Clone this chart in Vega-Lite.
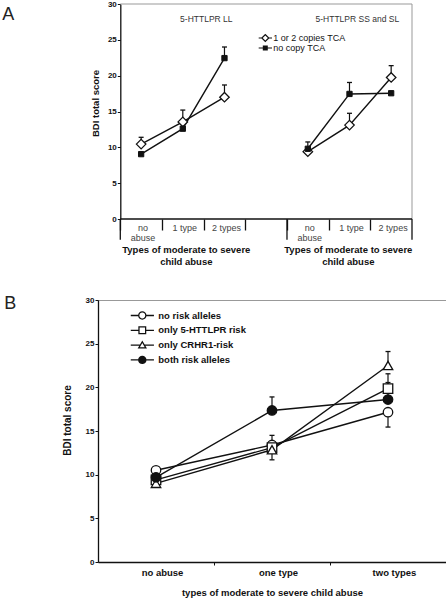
{
  "$schema": "https://vega.github.io/schema/vega-lite/v6.json",
  "padding": {"left": 2, "top": 0, "right": 0, "bottom": 0},
  "config": {
    "font": "Liberation Sans",
    "view": {"stroke": "#999", "strokeWidth": 1},
    "axis": {"grid": false, "domainColor": "#111", "domainWidth": 1.3, "tickColor": "#111", "labelColor": "#111", "titleColor": "#111", "labelFlush": false, "labelOverlap": false},
    "legend": {"padding": 0, "offset": 0}
  },
  "datasets": {
    "a": [
      {"geno": "LL", "abuse": "no abuse", "slot": 0, "series": "1 or 2 copies TCA", "bdi": 10.45, "lo": 10.45, "hi": 11.4},
      {"geno": "LL", "abuse": "1 type", "slot": 1, "series": "1 or 2 copies TCA", "bdi": 13.55, "lo": 13.55, "hi": 15.2},
      {"geno": "LL", "abuse": "2 types", "slot": 2, "series": "1 or 2 copies TCA", "bdi": 17.0, "lo": 17.0, "hi": 18.7},
      {"geno": "LL", "abuse": "no abuse", "slot": 0, "series": "no copy TCA", "bdi": 9.05, "lo": 9.05, "hi": 9.05},
      {"geno": "LL", "abuse": "1 type", "slot": 1, "series": "no copy TCA", "bdi": 12.6, "lo": 12.6, "hi": 12.6},
      {"geno": "LL", "abuse": "2 types", "slot": 2, "series": "no copy TCA", "bdi": 22.45, "lo": 22.45, "hi": 24.0},
      {"geno": "SS and SL", "abuse": "no abuse", "slot": 4, "series": "1 or 2 copies TCA", "bdi": 9.4, "lo": 9.4, "hi": 9.4},
      {"geno": "SS and SL", "abuse": "1 type", "slot": 5, "series": "1 or 2 copies TCA", "bdi": 13.1, "lo": 13.1, "hi": 14.75},
      {"geno": "SS and SL", "abuse": "2 types", "slot": 6, "series": "1 or 2 copies TCA", "bdi": 19.75, "lo": 19.75, "hi": 21.4},
      {"geno": "SS and SL", "abuse": "no abuse", "slot": 4, "series": "no copy TCA", "bdi": 9.8, "lo": 9.8, "hi": 10.75},
      {"geno": "SS and SL", "abuse": "1 type", "slot": 5, "series": "no copy TCA", "bdi": 17.45, "lo": 17.45, "hi": 19.05},
      {"geno": "SS and SL", "abuse": "2 types", "slot": 6, "series": "no copy TCA", "bdi": 17.55, "lo": 17.55, "hi": 17.55}
    ],
    "b": [
      {"series": "no risk alleles", "types": 0, "bdi": 10.5, "lo": 10.5, "hi": 10.5},
      {"series": "no risk alleles", "types": 1, "bdi": 13.4, "lo": 13.4, "hi": 14.5},
      {"series": "no risk alleles", "types": 2, "bdi": 17.15, "lo": 15.45, "hi": 17.15},
      {"series": "only 5-HTTLPR risk", "types": 0, "bdi": 9.4, "lo": 9.4, "hi": 9.4},
      {"series": "only 5-HTTLPR risk", "types": 1, "bdi": 13.1, "lo": 13.1, "hi": 13.1},
      {"series": "only 5-HTTLPR risk", "types": 2, "bdi": 19.85, "lo": 19.85, "hi": 21.55},
      {"series": "only CRHR1-risk", "types": 0, "bdi": 9.0, "lo": 9.0, "hi": 9.0},
      {"series": "only CRHR1-risk", "types": 1, "bdi": 12.85, "lo": 11.7, "hi": 12.85},
      {"series": "only CRHR1-risk", "types": 2, "bdi": 22.5, "lo": 22.5, "hi": 24.1},
      {"series": "both risk alleles", "types": 0, "bdi": 9.7, "lo": 9.7, "hi": 9.7},
      {"series": "both risk alleles", "types": 1, "bdi": 17.35, "lo": 17.35, "hi": 18.9},
      {"series": "both risk alleles", "types": 2, "bdi": 18.6, "lo": 18.6, "hi": 20.55}
    ]
  },
  "spacing": 81,
  "bounds": "flush",
  "vconcat": [
    {
      "width": 314,
      "height": 215,
      "view": {"stroke": null},
      "data": {"name": "a"},
      "encoding": {
        "x": {"field": "slot", "type": "quantitative", "scale": {"domain": [-1.035, 6.5], "nice": false, "zero": false},
          "axis": {"values": [0, 1, 2, 3, 4, 5, 6], "labelExpr": "datum.value == 0 || datum.value == 4 ? ['no', 'abuse'] : (datum.value == 1 || datum.value == 5 ? '1 type' : (datum.value == 3 ? '' : '2 types'))", "ticks": true, "tickSize": 11, "tickWidth": 1.3, "tickOffset": -20.83, "domain": false, "labelFontSize": 9, "labelColor": "#444", "labelPadding": -7, "labelLineHeight": 10, "labelOffset": 22.3, "title": null}},
        "y": {"field": "bdi", "type": "quantitative", "scale": {"domain": [0, 30], "nice": false, "zero": false},
          "axis": {"values": [0, 5, 10, 15, 20, 25, 30], "offset": -22.3, "tickSize": 3, "labelPadding": 1, "labelFontSize": 8, "labelFontWeight": "bold", "title": "BDI total score", "titleFontSize": 9.5, "titleFontWeight": "bold", "titlePadding": 7, "titleY": 99}}
      },
      "layer": [
        {
          "transform": [{"filter": "datum.slot == 0 && datum.series == 'no copy TCA'"}],
          "mark": {"type": "rule", "color": "#999", "strokeWidth": 1},
          "encoding": {"x": {"datum": -0.5}, "x2": {"datum": 6.5}, "y": {"datum": 30}}
        },
        {
          "transform": [{"filter": "datum.slot == 0 && datum.series == 'no copy TCA'"}],
          "mark": {"type": "rule", "color": "#999", "strokeWidth": 1},
          "encoding": {"x": {"datum": 6.5}, "y": {"datum": 0}, "y2": {"datum": 30}}
        },
        {
          "transform": [{"filter": "datum.slot == 0 && datum.series == 'no copy TCA'"}],
          "mark": {"type": "rule", "color": "#111", "strokeWidth": 1.3},
          "encoding": {"x": {"datum": -0.5}, "x2": {"datum": 6.5}, "y": {"datum": 0}}
        },
        {
          "transform": [{"filter": "datum.slot == 0 && datum.series == 'no copy TCA'"}],
          "mark": {"type": "rule", "color": "#111", "strokeWidth": 1.3},
          "encoding": {"x": {"datum": -0.5}, "y": {"datum": 0}, "y2": {"datum": -2.9}}
        },
        {
          "transform": [{"filter": "datum.slot == 0 && datum.series == 'no copy TCA'"}],
          "mark": {"type": "rule", "color": "#111", "strokeWidth": 1.3},
          "encoding": {"x": {"datum": 3.5}, "y": {"datum": 0}, "y2": {"datum": -2.9}}
        },
        {
          "transform": [{"filter": "datum.slot == 0 && datum.series == 'no copy TCA'"}],
          "mark": {"type": "rule", "color": "#111", "strokeWidth": 1.3},
          "encoding": {"x": {"datum": 6.5}, "y": {"datum": 0}, "y2": {"datum": -2.9}}
        },
        {
          "mark": {"type": "line", "color": "#111", "strokeWidth": 1.4},
          "encoding": {"detail": [{"field": "geno"}, {"field": "series"}]}
        },
        {
          "transform": [{"filter": "datum.hi > datum.lo"}],
          "mark": {"type": "rule", "color": "#111", "strokeWidth": 1.2},
          "encoding": {"y": {"field": "lo", "type": "quantitative"}, "y2": {"field": "hi"}}
        },
        {
          "transform": [{"filter": "datum.hi > datum.bdi"}],
          "mark": {"type": "point", "shape": "M-1,0H1", "size": 25, "stroke": "#111", "strokeWidth": 1.3, "opacity": 1},
          "encoding": {"y": {"field": "hi", "type": "quantitative"}}
        },
        {
          "transform": [{"filter": "datum.series == '1 or 2 copies TCA'"}],
          "mark": {"type": "point", "shape": "diamond", "size": 90, "fill": "white", "stroke": "#111", "strokeWidth": 1.3, "opacity": 1}
        },
        {
          "transform": [{"filter": "datum.series == 'no copy TCA'"}],
          "mark": {"type": "point", "shape": "square", "size": 28, "fill": "#111", "stroke": "#111", "strokeWidth": 1, "opacity": 1}
        },
        {
          "transform": [{"filter": "datum.slot == 0"}],
          "mark": {"type": "point", "opacity": 0, "size": 0, "filled": true, "color": "#111"},
          "encoding": {
            "shape": {"field": "series", "type": "nominal",
              "scale": {"domain": ["1 or 2 copies TCA", "no copy TCA"], "range": ["M-1,-0.09H-0.55V0.09H-1ZM0.55,-0.09H1V0.09H0.55ZM0,-0.64L0.64,0L0,0.64L-0.64,0ZM0,-0.38L-0.38,0L0,0.38L0.38,0Z", "M-1,-0.09H1V0.09H-1ZM-0.37,-0.37H0.37V0.37H-0.37Z"]},
              "legend": {"title": null, "orient": "none", "legendX": 160.3, "legendY": 29.5, "symbolSize": 182, "symbolFillColor": "#111", "symbolStrokeWidth": 0, "symbolOpacity": 1, "labelFontSize": 9, "labelColor": "#111", "labelOffset": 1, "clipHeight": 9, "rowPadding": -2.8, "padding": 0}}
          }
        },
        {
          "transform": [{"filter": "datum.slot == 0 && datum.series == 'no copy TCA'"}],
          "mark": {"type": "text", "text": "5-HTTLPR LL", "fontSize": 8.5, "color": "#333", "align": "center", "baseline": "middle"},
          "encoding": {"x": {"datum": 1.564}, "y": {"datum": 27.97}}
        },
        {
          "transform": [{"filter": "datum.slot == 0 && datum.series == 'no copy TCA'"}],
          "mark": {"type": "text", "text": "5-HTTLPR SS and SL", "fontSize": 8.5, "color": "#333", "align": "center", "baseline": "middle"},
          "encoding": {"x": {"datum": 5.188}, "y": {"datum": 27.97}}
        },
        {
          "transform": [{"filter": "datum.slot == 0 && datum.series == 'no copy TCA'"}],
          "mark": {"type": "text", "text": ["Types of moderate to severe", "child abuse"], "fontSize": 9.5, "fontWeight": "bold", "color": "#111", "align": "center", "baseline": "top", "lineHeight": 12.3},
          "encoding": {"x": {"datum": 1.084}, "y": {"datum": -3.6}}
        },
        {
          "transform": [{"filter": "datum.slot == 0 && datum.series == 'no copy TCA'"}],
          "mark": {"type": "text", "text": ["Types of moderate to severe", "child abuse"], "fontSize": 9.5, "fontWeight": "bold", "color": "#111", "align": "center", "baseline": "top", "lineHeight": 12.3},
          "encoding": {"x": {"datum": 4.972}, "y": {"datum": -3.6}}
        },
        {
          "transform": [{"filter": "datum.slot == 0 && datum.series == 'no copy TCA'"}],
          "mark": {"type": "text", "text": "A", "fontSize": 18, "color": "#222", "align": "left", "baseline": "alphabetic"},
          "encoding": {"x": {"datum": -3.332}, "y": {"datum": 27.79}}
        }
      ]
    },
    {
      "width": 348,
      "height": 262,
      "data": {"name": "b"},
      "encoding": {
        "x": {"field": "types", "type": "quantitative", "scale": {"domain": [-0.5, 2.5], "nice": false, "zero": false},
          "axis": {"values": [0, 1, 2], "labelExpr": "datum.value == 0 ? 'no abuse' : (datum.value == 1 ? 'one type' : 'two types')", "tickOffset": 58, "labelOffset": -52, "tickSize": 3, "labelPadding": 2, "labelFontSize": 9.5, "labelFontWeight": "bold", "title": "types of moderate to severe child abuse", "titleFontSize": 9.5, "titleFontWeight": "bold", "titlePadding": 11}},
        "y": {"field": "bdi", "type": "quantitative", "scale": {"domain": [0, 30], "nice": false, "zero": false},
          "axis": {"values": [0, 5, 10, 15, 20, 25, 30], "tickSize": 3, "labelPadding": 1, "labelFontSize": 8, "labelFontWeight": "bold", "title": "BDI total score", "titleFontSize": 10, "titleFontWeight": "bold", "titlePadding": 13, "titleY": 120}}
      },
      "layer": [
        {
          "mark": {"type": "line", "color": "#111", "strokeWidth": 1.4},
          "encoding": {"detail": {"field": "series"}}
        },
        {
          "transform": [{"filter": "datum.hi > datum.lo"}],
          "mark": {"type": "rule", "color": "#111", "strokeWidth": 1.2},
          "encoding": {"y": {"field": "lo", "type": "quantitative"}, "y2": {"field": "hi"}}
        },
        {
          "transform": [{"filter": "datum.hi > datum.bdi"}],
          "mark": {"type": "point", "shape": "M-1,0H1", "size": 25, "stroke": "#111", "strokeWidth": 1.3, "opacity": 1},
          "encoding": {"y": {"field": "hi", "type": "quantitative"}}
        },
        {
          "transform": [{"filter": "datum.lo < datum.bdi"}],
          "mark": {"type": "point", "shape": "M-1,0H1", "size": 25, "stroke": "#111", "strokeWidth": 1.3, "opacity": 1},
          "encoding": {"y": {"field": "lo", "type": "quantitative"}}
        },
        {
          "mark": {"type": "point", "size": 90, "stroke": "#111", "strokeWidth": 1.3, "opacity": 1},
          "encoding": {
            "shape": {"field": "series", "type": "nominal", "scale": {"domain": ["no risk alleles", "only 5-HTTLPR risk", "only CRHR1-risk", "both risk alleles"], "range": ["circle", "square", "triangle-up", "circle"]}, "legend": null},
            "fill": {"field": "series", "type": "nominal", "scale": {"domain": ["no risk alleles", "only 5-HTTLPR risk", "only CRHR1-risk", "both risk alleles"], "range": ["white", "white", "white", "#111"]}, "legend": null}
          }
        },
        {
          "transform": [{"filter": "datum.types == 0"}],
          "mark": {"type": "point", "opacity": 0, "size": 0, "filled": true, "color": "#111"},
          "encoding": {
            "shape": {"field": "series", "type": "nominal",
              "scale": {"domain": ["no risk alleles", "only 5-HTTLPR risk", "only CRHR1-risk", "both risk alleles"], "range": [
                "M-1,-0.055H-0.33V0.055H-1ZM0.33,-0.055H1V0.055H0.33ZM0.36,0A0.36,0.36,0,1,1,-0.36,0A0.36,0.36,0,1,1,0.36,0ZM0.25,0A0.25,0.25,0,1,0,-0.25,0A0.25,0.25,0,1,0,0.25,0Z",
                "M-1,-0.055H-0.33V0.055H-1ZM0.33,-0.055H1V0.055H0.33ZM-0.34,-0.34H0.34V0.34H-0.34ZM-0.23,-0.23V0.23H0.23V-0.23Z",
                "M-1,-0.055H-0.2V0.055H-1ZM0.2,-0.055H1V0.055H0.2ZM0,-0.4L0.4,0.3L-0.4,0.3ZM0,-0.178L-0.21,0.19L0.21,0.19Z",
                "M-1,-0.055H-0.33V0.055H-1ZM0.33,-0.055H1V0.055H0.33ZM0.36,0A0.36,0.36,0,1,1,-0.36,0A0.36,0.36,0,1,1,0.36,0Z"]},
              "legend": {"title": null, "orient": "none", "legendX": 32.3, "legendY": 9.5, "symbolSize": 543, "symbolFillColor": "#111", "symbolStrokeWidth": 0, "symbolOpacity": 1, "labelFontSize": 9.5, "labelFontWeight": "bold", "labelColor": "#111", "labelOffset": 4, "clipHeight": 12, "rowPadding": 2.8, "padding": 0}}
          }
        },
        {
          "transform": [{"filter": "datum.types == 0 && datum.series == 'no risk alleles'"}],
          "mark": {"type": "text", "text": "B", "fontSize": 18, "color": "#222", "align": "left", "baseline": "alphabetic"},
          "encoding": {"x": {"datum": -1.308}, "y": {"datum": 29.0}}
        }
      ],
      "resolve": {"scale": {"shape": "independent"}}
    }
  ]
}
